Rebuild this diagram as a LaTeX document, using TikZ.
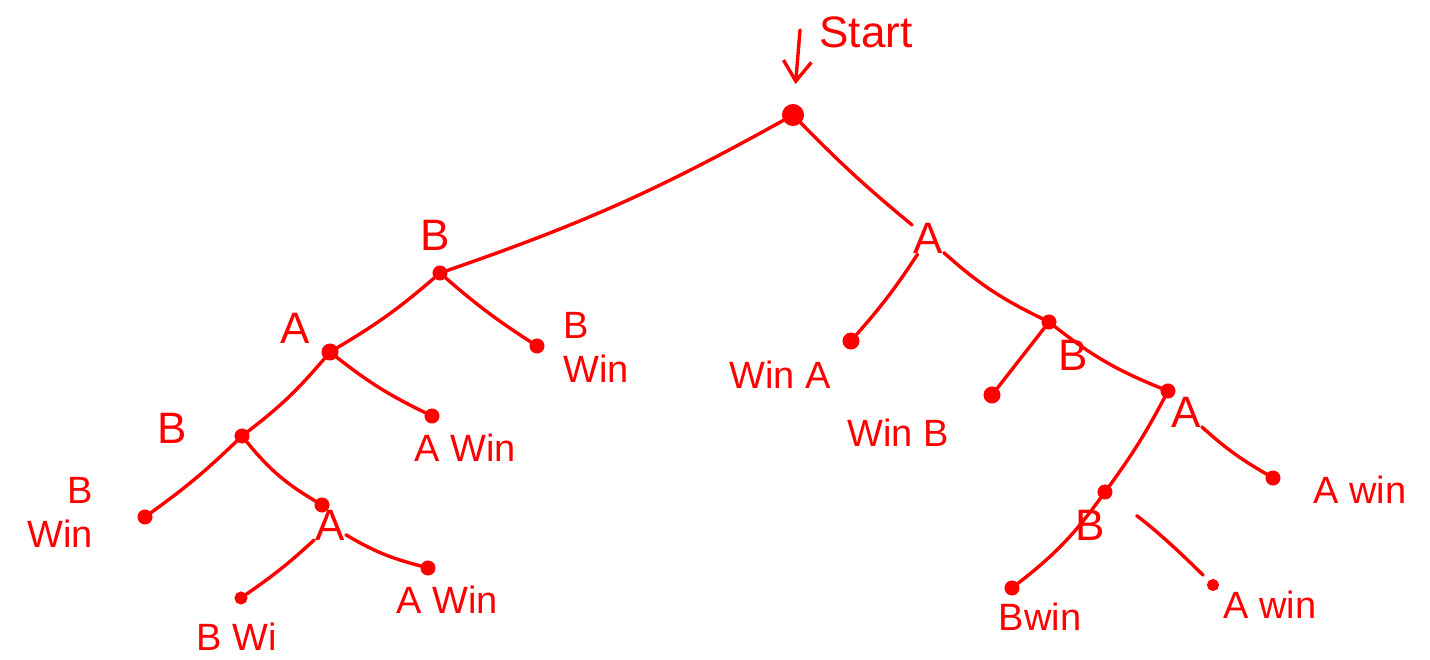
\documentclass[tikz,border=0pt]{standalone}
\usepackage{fontspec}
\setmainfont{Liberation Sans}
\usetikzlibrary{arrows.meta}
\definecolor{pen}{RGB}{255,0,0}
\tikzset{
  ink/.style={draw=pen, line width=3.4pt, line cap=round, line join=round},
  dot/.style={circle, draw=pen, fill=pen, line width=2pt, minimum size=13pt, inner sep=0pt},
  bigdot/.style={dot, minimum size=20pt},
  lab/.style={text=pen, inner sep=1pt, font=\fontsize{44}{48}\selectfont},
  win/.style={text=pen, inner sep=1pt, font=\fontsize{38}{44}\selectfont},
}
\begin{document}
\begin{tikzpicture}[x=1pt,y=-1pt]
\useasboundingbox (0,0) rectangle (1430,659);
% dots
\node[bigdot] (s) at (793,115) {};
\node[dot] (b1) at (440,273) {};
\node[dot, minimum size=15pt] (a2) at (330,352) {};
\node[dot] (bw1) at (537,346) {};
\node[dot] (b2) at (242,436) {};
\node[dot] (aw1) at (432,416) {};
\node[dot] (bw2) at (145,517) {};
\node[dot] (a3) at (322,505) {};
\node[dot, minimum size=11pt] (bw3) at (241,598) {};
\node[dot] (aw2) at (428,568) {};
\node[dot, minimum size=15pt] (wa) at (851,341) {};
\node[dot] (r2) at (1049,322) {};
\node[dot, minimum size=15pt] (wb) at (992,395) {};
\node[dot] (a4) at (1168,391) {};
\node[dot] (aw3) at (1273,478) {};
\node[dot] (b4) at (1105,492) {};
\node[dot, minimum size=10pt] (aw4) at (1213,585) {};
\node[dot] (bw4) at (1012,588) {};
% labels
\node[lab] (start) at (866,32) {Start};
\coordinate (arrtop) at (800,30);
\node[lab] (lb1) at (435,235) {B};
\node[lab] (la2) at (295,328) {A};
\node[win, align=left] (lbw1) at (596,347) {B\\Win};
\node[win] (law1) at (465,448) {A Win};
\node[lab] (lb2) at (172,428) {B};
\node[win, align=right] (lbw2) at (60,512) {B\\Win};
\node[lab] (la3) at (330,525) {A};
\node[win] (lbw3) at (237,637) {B Wi};
\node[win] (law2) at (447,600) {A Win};
\node[lab] (la1) at (928,238) {A};
\node[win] (lwa) at (780,375) {Win A};
\node[lab] (lr2) at (1073,355) {B};
\node[win] (lwb) at (898,433) {Win B};
\node[lab] (la4) at (1186,412) {A};
\node[win] (law3) at (1360,490) {A win};
\node[lab] (lb4) at (1090,525) {B};
\node[win] (lbw4) at (1040,617) {Bwin};
\node[win] (law4) at (1270,605) {A win};
% connectors
\draw[ink, -{Straight Barb[length=20pt, width=28pt]}, shorten >=20pt] (arrtop) -- (s);
\draw[ink] (s) to[bend left=5] (b1);
\draw[ink] (s) to[bend right=3] (la1);
\draw[ink] (b1) to[bend left=5] (a2);
\draw[ink] (b1) to[bend right=4] (bw1);
\draw[ink] (a2) to[bend left=6] (b2);
\draw[ink] (a2) to[bend right=6] (aw1);
\draw[ink] (b2) to[bend left=4] (bw2);
\draw[ink] (b2) to[bend right=10] (a3);
\draw[ink] (la3) to[bend left=4] (bw3);
\draw[ink] (la3) to[bend right=8] (aw2);
\draw[ink] (la1) to[bend left=4] (wa);
\draw[ink] (la1) to[bend right=8] (r2);
\draw[ink] (r2) to (wb);
\draw[ink] (r2) to[bend right=8] (a4);
\draw[ink] (a4) to[bend left=4] (b4);
\draw[ink] (la4) to[bend right=6] (aw3);
\draw[ink] (b4) to[bend left=8] (bw4);
\draw[ink, shorten <=32pt, shorten >=8pt] (b4) to[bend left=4] (aw4);
\end{tikzpicture}
\end{document}
